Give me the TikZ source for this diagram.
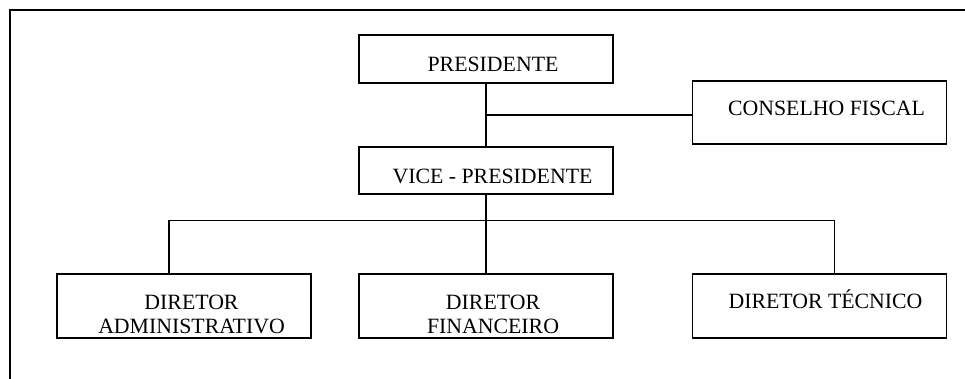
\documentclass[tikz,border=0pt]{standalone}
\usepackage{fontspec}
\setmainfont{Liberation Serif}
\begin{document}
\begin{tikzpicture}[x=1pt,y=-1pt,
  box/.style={draw=black,line width=1.5pt,fill=white,inner sep=0pt},
  conn/.style={draw=black,line width=1.9pt},
  thick conn/.style={draw=black,line width=2.8pt},
  frame/.style={draw=black,line width=2.3pt},
  txt/.style={inner sep=0pt,font=\fontsize{21.8}{24}\selectfont,align=center}]
\useasboundingbox (0,0) rectangle (965,379);
\draw[frame] (10,379) -- (10,10) -- (965,10);
% boxes
\node[box,minimum width=254pt,minimum height=48pt] (p) at (486,59) {};
\node[box,minimum width=254pt,minimum height=63pt] (cf) at (819.5,112.5) {};
\node[box,minimum width=254pt,minimum height=47pt] (v) at (486,170.5) {};
\node[box,minimum width=254pt,minimum height=64pt] (ad) at (184,306) {};
\node[box,minimum width=254pt,minimum height=64pt] (fi) at (486,306) {};
\node[box,minimum width=254pt,minimum height=64pt] (te) at (819.5,306) {};
% texts
\node[txt,anchor=base] (tp) at (493,71.7) {PRESIDENTE};
\node[txt,anchor=base] (tcf) at (826.5,116) {CONSELHO FISCAL};
\node[txt,anchor=base] (tv) at (492.5,183.3) {VICE - PRESIDENTE};
\node[txt,anchor=base] (tad1) at (191.5,309.5) {DIRETOR};
\node[txt,anchor=base] (tad2) at (191.5,333) {ADMINISTRATIVO};
\node[txt,anchor=base] (tfi1) at (493,309.5) {DIRETOR};
\node[txt,anchor=base] (tfi2) at (493,333) {FINANCEIRO};
\node[txt,anchor=base] (tte) at (825.5,308) {DIRETOR TÉCNICO};
% connectors
\coordinate (j) at (486,115);
\coordinate (bl) at (169,220.5);
\coordinate (br) at (834.5,220.5);
\draw[conn] (p.south) -- (v.north);
\draw[thick conn] (j) -- (j -| cf.west);
\draw[conn] (v.south) -- (v.south |- bl);
\draw[conn,line cap=rect] (bl) -- (br);
\draw[conn] (bl) -- (bl |- ad.north);
\draw[conn] (v.south |- bl) -- (fi.north);
\draw[conn] (br) -- (br |- te.north);
\end{tikzpicture}
\end{document}
